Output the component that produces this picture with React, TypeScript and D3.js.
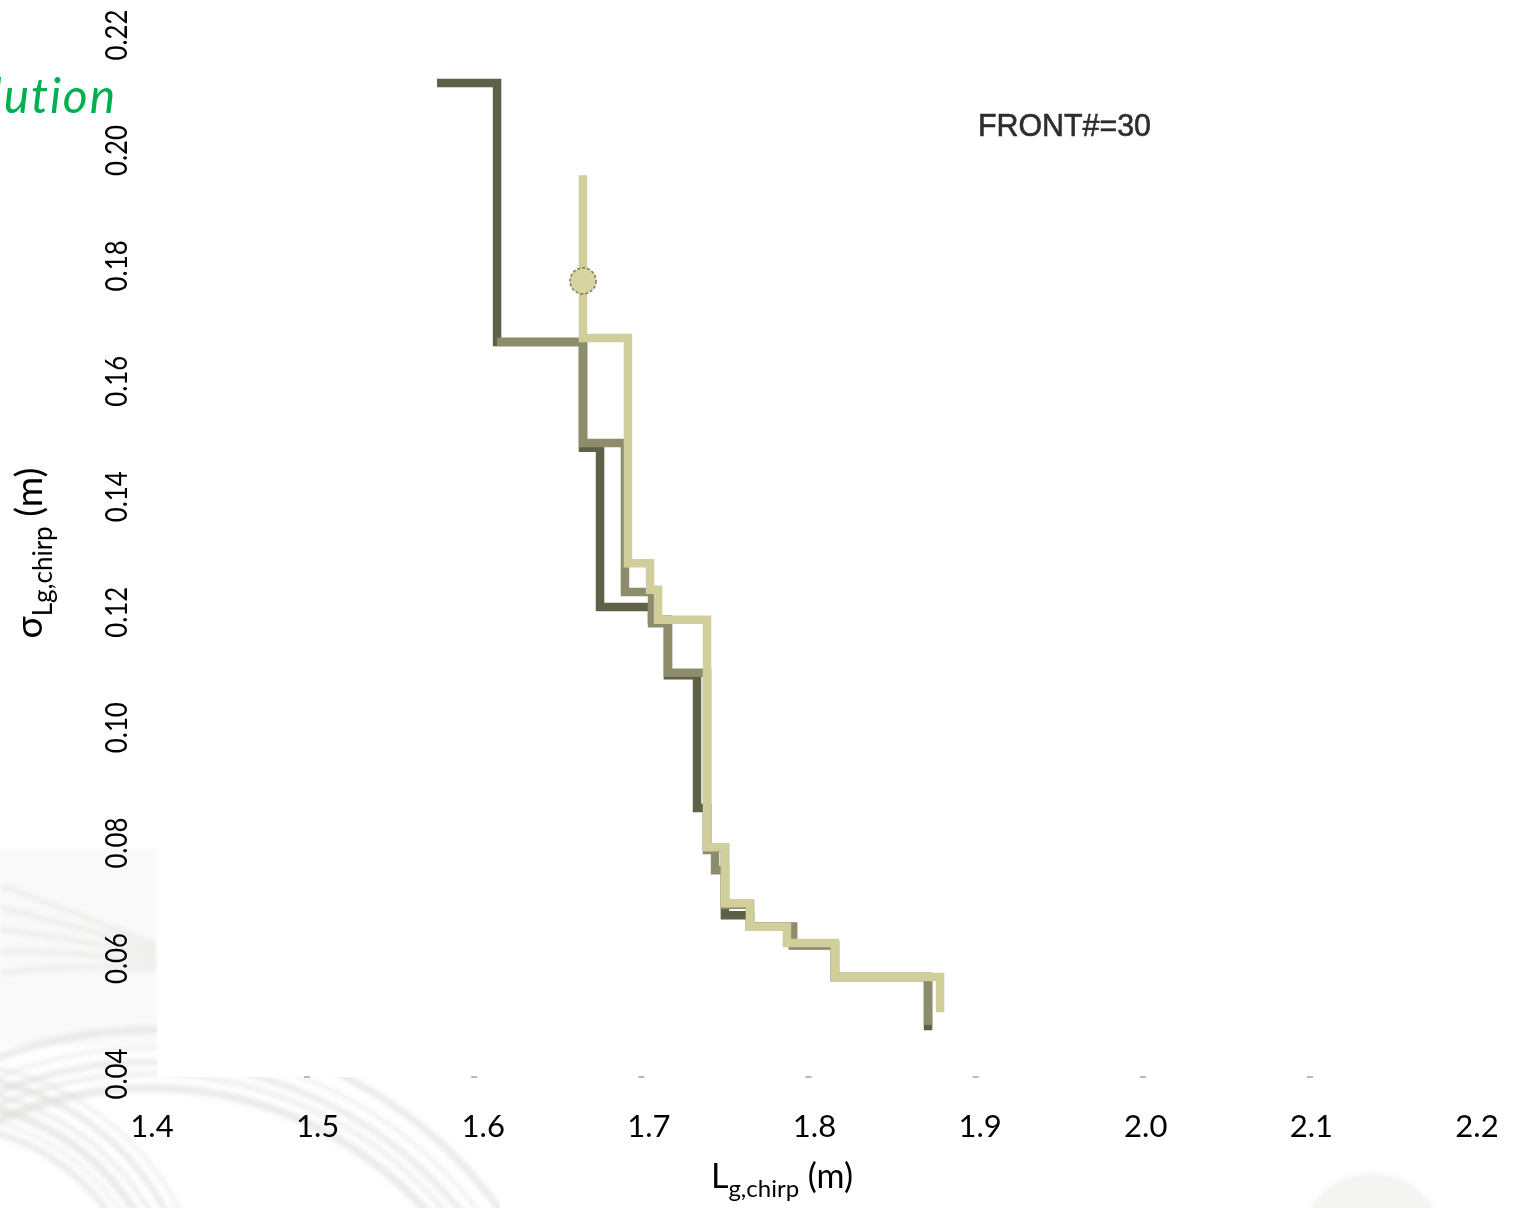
import React from "react";
import * as d3 from "d3";

// ---- data ----
const darkX = [1.5778, 1.6137, 1.6651, 1.6753, 1.7064, 1.7159, 1.7333, 1.7393, 1.75, 1.765, 1.7907, 1.8158, 1.8715];
const darkY = [0.2117, 0.1668, 0.1485, 0.1209, 0.1187, 0.1091, 0.0861, 0.0793, 0.0675, 0.0655, 0.0623, 0.0568, 0.0476];

const midX = [1.6137, 1.6651, 1.6902, 1.7064, 1.7159, 1.7393, 1.7441, 1.75, 1.765, 1.7907, 1.8158, 1.8715];
const midY = [0.1668, 0.1493, 0.1235, 0.1181, 0.1095, 0.0788, 0.0753, 0.0693, 0.0655, 0.0623, 0.0568, 0.0485];

const lightX = [1.6651, 1.6651, 1.692, 1.7052, 1.71, 1.7393, 1.75, 1.765, 1.7871, 1.8158, 1.8787];
const lightY = [0.1957, 0.1675, 0.1285, 0.1239, 0.1187, 0.0793, 0.0696, 0.0655, 0.0627, 0.0568, 0.0507];

const markerX = [1.6651];
const markerY = [0.1774];

const xTickValues = [1.4, 1.5, 1.6, 1.7, 1.8, 1.9, 2.0, 2.1, 2.2];
const xDashValues = [1.5, 1.6, 1.7, 1.8, 1.9, 2.0, 2.1];
const yTickValues = [0.04, 0.06, 0.08, 0.1, 0.12, 0.14, 0.16, 0.18, 0.2, 0.22];

const frontLabel = "FRONT#=30";

const W = 1514;
const H = 1208;

export default function App() {
  const xPlot = d3.scaleLinear().domain([1.5, 2.1]).range([307, 1310]);
  const xLab = d3.scaleLinear().domain([1.4, 2.2]).range([152, 1477]);
  const y = d3.scaleLinear().domain([0.04, 0.22]).range([1074, 35]);

  const line = d3
    .line<[number, number]>()
    .x((d) => xPlot(d[0]))
    .y((d) => y(d[1]))
    .curve(d3.curveStepAfter);

  const zip = (xs: number[], ys: number[]) => xs.map((v, i) => [v, ys[i]] as [number, number]);

  const series = [
    { pts: zip(darkX, darkY), color: "#5e6047" },
    { pts: zip(midX, midY), color: "#8d8c6b" },
    { pts: zip(lightX, lightY), color: "#d0cf9c" },
  ];

  const font = "Lato, 'Open Sans', sans-serif";

  return (
    <svg
      width={W}
      height={H}
      style={{ position: "absolute", left: 0, top: 0, display: "block" }}
      xmlns="http://www.w3.org/2000/svg"
    >
      <defs>
        <filter id="soft" x="-20%" y="-20%" width="140%" height="140%">
          <feGaussianBlur stdDeviation="2.5" />
        </filter>
        <filter id="px" x="-5%" y="-5%" width="110%" height="110%">
          <feGaussianBlur stdDeviation="0.6" />
        </filter>
      </defs>
      <rect x={0} y={0} width={W} height={H} fill="#ffffff" />

      {/* slide background swirls */}
      <g filter="url(#soft)" fill="none">
        <rect x={0} y={848} width={157} height={197} fill="#f9f9f9" />
        {[205, 216, 228, 241, 255, 268].map((r, i) => (
          <circle key={"a" + i} cx={-60} cy={1330} r={r} stroke="#d4d4d2" strokeWidth={[6, 3, 8, 4, 6, 3][i]} opacity={0.5} />
        ))}
        {[372, 386, 398, 412, 430].map((r, i) => (
          <circle key={"b" + i} cx={150} cy={1460} r={r} stroke="#d6d6d4" strokeWidth={[8, 4, 6, 3, 7][i]} opacity={0.5} />
        ))}
        {[0, 1, 2, 3, 4].map((i) => (
          <path
            key={"c" + i}
            d={`M0,${885 + i * 22} Q80,${915 + i * 12} 157,${945 + i * 6}`}
            stroke="#e2e2e0"
            strokeWidth={5}
            opacity={0.6}
          />
        ))}
      </g>
      {/* white chart area covering the background */}
      <rect x={157} y={0} width={W - 157} height={1077} fill="#ffffff" />
      <rect x={0} y={0} width={157} height={848} fill="#ffffff" />
      <rect x={500} y={1077} width={W - 500} height={H - 1077} fill="#ffffff" />
      <circle cx={1372} cy={1245} r={72} fill="#f4f4f3" filter="url(#soft)" />

      {/* residual tick marks of the original plot */}
      {xDashValues.map((v) => (
        <rect key={v} x={xPlot(v) - 3} y={1076} width={6} height={2} fill="#b8b8b8" />
      ))}

      {/* step lines */}
      {series.map((s, i) => (
        <path
          key={i}
          d={line(s.pts) || ""}
          fill="none"
          stroke={s.color}
          strokeWidth={8.5}
          strokeLinejoin="miter"
          strokeLinecap="butt"
        />
      ))}
      {markerX.map((mx, i) => (
        <circle
          key={i}
          cx={xPlot(mx)}
          cy={y(markerY[i])}
          r={13}
          fill="#d6d5a1"
          stroke="#7d7c5c"
          strokeWidth={1.6}
          strokeDasharray="3 2"
        />
      ))}

      {/* FRONT label */}
      <text
        x={978}
        y={136}
        fontFamily="'Liberation Sans', 'DejaVu Sans', sans-serif"
        fontSize={31}
        fill="#2e2e2e"
        stroke="#2e2e2e"
        strokeWidth={0.6}
        textLength={173}
        lengthAdjust="spacingAndGlyphs"
        filter="url(#px)"
      >
        {frontLabel}
      </text>

      {/* x tick labels */}
      {xTickValues.map((v) => (
        <text key={v} x={xLab(v)} y={1137} textAnchor="middle" fontFamily={font} fontSize={31} fill="#000">
          {d3.format(".1f")(v)}
        </text>
      ))}

      {/* y tick labels (rotated) */}
      {yTickValues.map((v) => (
        <text
          key={v}
          transform={`translate(127,${y(v)}) rotate(-90)`}
          textAnchor="middle"
          fontFamily={font}
          fontSize={31}
          fill="#000"
          textLength={51}
          lengthAdjust="spacingAndGlyphs"
        >
          {d3.format(".2f")(v)}
        </text>
      ))}

      {/* x axis title */}
      <text x={782} y={1188} textAnchor="middle" fontFamily={font} fontSize={34} fill="#000">
        <tspan>L</tspan>
        <tspan fontSize={24} dy={9}>g,chirp</tspan>
        <tspan dy={-9}> (m)</tspan>
      </text>

      {/* y axis title */}
      <text
        transform={`translate(42,553) rotate(-90)`}
        textAnchor="middle"
        fontFamily={font}
        fontSize={37}
        fill="#000"
      >
        <tspan>σ</tspan>
        <tspan fontSize={26} dy={10}>Lg,chirp</tspan>
        <tspan dy={-10}> (m)</tspan>
      </text>

      {/* slide title fragment */}
      <text
        x={117}
        y={113}
        textAnchor="end"
        fontFamily={font}
        fontStyle="italic"
        fontSize={48}
        letterSpacing={1.9}
        fill="#00b050"
      >
        Evolution
      </text>
    </svg>
  );
}
